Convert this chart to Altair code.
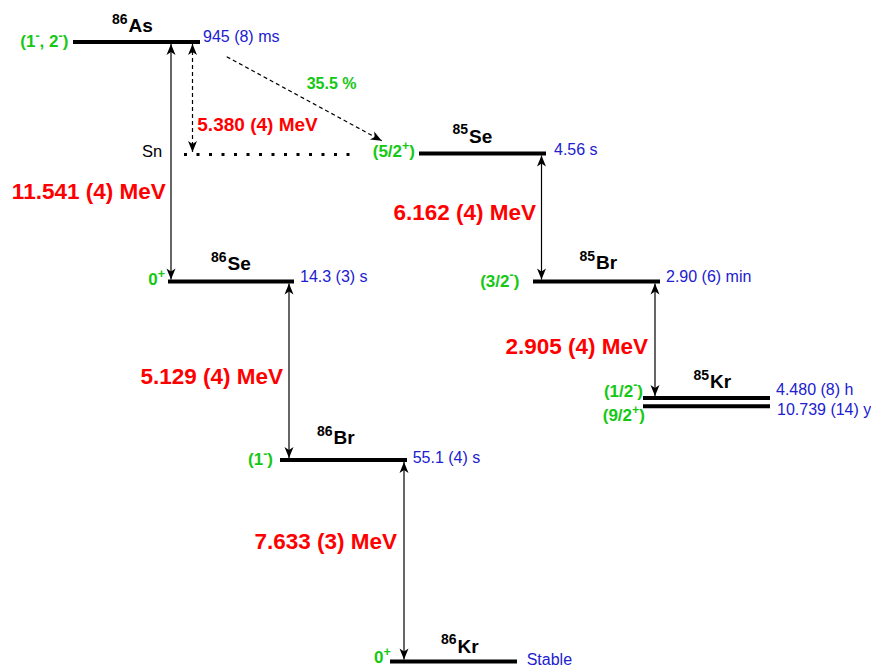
import altair as alt
import pandas as pd
import math

# ---------------- scheme data (diagram coordinates) ----------------
# energy levels
level_name = ["86As", "85Se", "86Se", "85Br", "85Kr a", "85Kr b", "86Br", "86Kr"]
level_x0 = [73, 419, 168, 533, 643, 643, 280, 390]
level_x1 = [200, 546, 294, 660, 770, 770, 407, 517]
level_y = [42, 153.5, 281.5, 281.5, 398, 406.2, 460, 661.5]

# nuclide labels (mass number superscript + element symbol)
nuc_mass = ["86", "85", "86", "85", "85", "86", "86"]
nuc_symbol = ["As", "Se", "Se", "Br", "Kr", "Br", "Kr"]
nuc_x = [127.5, 468, 226.5, 595, 709, 332.5, 456.5]
nuc_y = [32, 142.7, 270, 269.3, 388.3, 444, 652.7]

# spin / parity labels ("^" marks a superscript part)
spin_parts = [["(1", "^-", ", 2", "^-", ")"], ["(5/2", "^+", ")"], ["0", "^+"],
              ["(3/2", "^-", ")"], ["(1/2", "^-", ")"], ["(9/2", "^+", ")"],
              ["(1", "^-", ")"], ["0", "^+"]]
spin_x = [68.3, 415, 165, 519.3, 643, 645, 273, 390.7]
spin_y = [47, 157, 285, 286.7, 396.7, 421, 465, 663.3]

# half-lives
hl_text = ["945 (8) ms", "4.56 s", "14.3 (3) s", "2.90 (6) min",
           "4.480 (8) h", "10.739 (14) y", "55.1 (4) s", "Stable"]
hl_x = [203, 554, 300, 666, 776, 777, 412.7, 526.7]
hl_y = [41.7, 155, 281.7, 281.7, 395, 415, 462.7, 665]

# Q-values (decay energies)
q_text = ["11.541 (4) MeV", "6.162 (4) MeV", "2.905 (4) MeV",
          "5.129 (4) MeV", "7.633 (3) MeV"]
q_x = [165.7, 536, 648, 283, 397]
q_y = [199, 220, 354, 384, 549]

# neutron separation energy
sn_text = "5.380 (4) MeV"
sn_label_x, sn_label_y = 197.3, 130.7
sn_line_x0, sn_line_x1, sn_line_y = 184, 358, 154.5

# branching
branch_text = "35.5 %"
branch_x, branch_y = 306.7, 89.3

# vertical double arrows: x, top, bottom, dashed
arr_x = [171, 192.5, 289, 404, 541.5, 655]
arr_top = [44, 44, 283.5, 462, 155.5, 283.5]
arr_bot = [279.5, 152, 458, 659.5, 279.5, 396]
arr_dash = [False, True, False, False, False, False]

# diagonal (beta-delayed neutron) arrow
diag_x0, diag_y0, diag_x1, diag_y1 = 226.7, 56.7, 381.7, 140.7

# ---------------- chart ----------------
FONT = "Liberation Sans"
GREEN = "#14c814"
BLUE = "#2020d0"
RED = "#ff0000"
SPIN_FS, SUP_FS = 17, 12.5

W, H = 863, 663
xs = alt.Scale(domain=[8, 8 + W], nice=False, zero=False)
ys = alt.Scale(domain=[8, 8 + H], nice=False, zero=False, reverse=True)
X = lambda f: alt.X(f, type="quantitative", scale=xs, axis=None)
Y = lambda f: alt.Y(f, type="quantitative", scale=ys, axis=None)

levels = pd.DataFrame({"name": level_name, "x0": level_x0, "x1": level_x1, "y": level_y})
lv = alt.Chart(levels).mark_rule(color="black", strokeWidth=4, strokeCap="butt").encode(
    x=X("x0"), x2="x1", y=Y("y"))

nuc = pd.DataFrame({"m": nuc_mass, "s": nuc_symbol, "x": nuc_x, "y": nuc_y})
nuc_m = alt.Chart(nuc).mark_text(align="right", baseline="alphabetic", font=FONT,
                                 fontSize=14, fontWeight="bold", color="black", dy=-8.5).encode(
    x=X("x"), y=Y("y"), text="m:N")
nuc_s = alt.Chart(nuc).mark_text(align="left", baseline="alphabetic", font=FONT,
                                 fontSize=19, fontWeight="bold", color="black", dx=1).encode(
    x=X("x"), y=Y("y"), text="s:N")

# layout of spin labels with real superscripts (Arial-bold advance widths, per em)
ADV = {"(": .333, ")": .333, "/": .278, ",": .278, " ": .278, "+": .584, "-": .333}
for d in "0123456789":
    ADV[d] = .556


def seg_w(s, fs):
    return sum(ADV.get(c, .556) for c in s) * fs


rows = []
for parts, xr, yb in zip(spin_parts, spin_x, spin_y):
    segs = [(p[1:], True) if p.startswith("^") else (p, False) for p in parts]
    total = sum(seg_w(t, SUP_FS if sup else SPIN_FS) for t, sup in segs)
    cx = xr - total
    for t, sup in segs:
        rows.append({"t": t, "x": cx, "y": yb, "sup": sup})
        cx += seg_w(t, SUP_FS if sup else SPIN_FS)
spin_df = pd.DataFrame(rows)
sp_base = alt.Chart(spin_df[~spin_df["sup"]]).mark_text(
    align="left", baseline="alphabetic", font=FONT, fontSize=SPIN_FS, fontWeight="bold",
    color=GREEN).encode(x=X("x"), y=Y("y"), text="t:N")
sp_sup = alt.Chart(spin_df[spin_df["sup"]]).mark_text(
    align="left", baseline="alphabetic", font=FONT, fontSize=SUP_FS, fontWeight="bold",
    color=GREEN, dy=-7.5).encode(x=X("x"), y=Y("y"), text="t:N")

hls = pd.DataFrame({"t": hl_text, "x": hl_x, "y": hl_y})
hl = alt.Chart(hls).mark_text(align="left", baseline="alphabetic", font=FONT,
                              fontSize=16, color=BLUE).encode(
    x=X("x"), y=Y("y"), text="t:N")

qs = pd.DataFrame({"t": q_text, "x": q_x, "y": q_y})
q = alt.Chart(qs).mark_text(align="right", baseline="alphabetic", font=FONT,
                            fontSize=22.5, fontWeight="bold", color=RED).encode(
    x=X("x"), y=Y("y"), text="t:N")

snl = alt.Chart(pd.DataFrame({"t": [sn_text], "x": [sn_label_x], "y": [sn_label_y]})).mark_text(
    align="left", baseline="alphabetic", font=FONT, fontSize=19, fontWeight="bold", color=RED).encode(
    x=X("x"), y=Y("y"), text="t:N")

sn_name = alt.Chart(pd.DataFrame({"t": ["Sn"], "x": [162.3], "y": [156.7]})).mark_text(
    align="right", baseline="alphabetic", font=FONT, fontSize=16.5, color="black").encode(
    x=X("x"), y=Y("y"), text="t:N")

sn_line = alt.Chart(pd.DataFrame({"x0": [sn_line_x0], "x1": [sn_line_x1], "y": [sn_line_y]})).mark_rule(
    color="black", strokeWidth=3, strokeDash=[3, 9.5], strokeCap="butt").encode(
    x=X("x0"), x2="x1", y=Y("y"))

br = alt.Chart(pd.DataFrame({"t": [branch_text], "x": [branch_x], "y": [branch_y]})).mark_text(
    align="left", baseline="alphabetic", font=FONT, fontSize=16, fontWeight="bold", color=GREEN).encode(
    x=X("x"), y=Y("y"), text="t:N")

arrows = pd.DataFrame({"x": arr_x, "top": arr_top, "bot": arr_bot, "dash": arr_dash})
solid = alt.Chart(arrows[~arrows["dash"]]).mark_rule(color="black", strokeWidth=1.2).encode(
    x=X("x"), y=Y("top"), y2="bot")
dashed = alt.Chart(arrows[arrows["dash"]]).mark_rule(color="black", strokeWidth=1.2,
                                                     strokeDash=[4, 3]).encode(
    x=X("x"), y=Y("top"), y2="bot")
diag = alt.Chart(pd.DataFrame({"x0": [diag_x0], "y0": [diag_y0], "x1": [diag_x1], "y1": [diag_y1]})).mark_rule(
    color="black", strokeWidth=1.2, strokeDash=[4, 3]).encode(
    x=X("x0"), y=Y("y0"), x2="x1", y2="y1")

# arrow heads
hx, hy, ha = [], [], []
for x, t, b in zip(arr_x, arr_top, arr_bot):
    hx += [x, x]
    hy += [t, b]
    ha += [0, 180]
hx.append(diag_x1)
hy.append(diag_y1)
ha.append(math.degrees(math.atan2(diag_x1 - diag_x0, -(diag_y1 - diag_y0))))
heads = pd.DataFrame({"x": hx, "y": hy, "a": ha})
HEAD = "M0,0 L0.9,2.2 L0,1.6 L-0.9,2.2 Z"
hd = alt.Chart(heads).mark_point(shape=HEAD, filled=True, size=100, color="black",
                                 opacity=1, strokeWidth=0).encode(
    x=X("x"), y=Y("y"), angle=alt.Angle("a:Q", scale=None))

chart = alt.layer(lv, sn_line, solid, dashed, diag, hd, nuc_m, nuc_s, sp_base, sp_sup,
                  hl, q, snl, sn_name, br).properties(
    width=W, height=H, padding=0, autosize="none", background="white"
).configure_view(stroke=None)

chart.save("out.html", embed_options={"renderer": "svg", "actions": False})
